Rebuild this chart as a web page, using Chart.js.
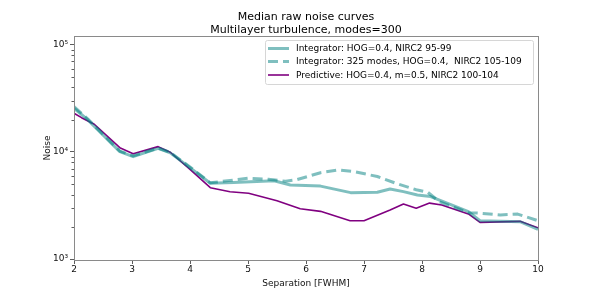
<!doctype html>
<html>
<head>
<meta charset="utf-8" />
<title>Median raw noise curves</title>
<script src="https://cdn.jsdelivr.net/npm/chart.js@4.4.1/dist/chart.umd.min.js"></script>
<style>
  html, body { margin: 0; padding: 0; background: #fff; }
  #wrap { width: 598px; height: 299px; }
</style>
</head>
<body>
<div id="wrap"><canvas id="chart1" width="598" height="299"></canvas></div>
<script>
// values (separation in FWHM, noise)
var titleLines = ["Median raw noise curves", "Multilayer turbulence, modes=300"];
var labelSolid = "Integrator: HOG=0.4, NIRC2 95-99";
var labelDashed = "Integrator: 325 modes, HOG=0.4,  NIRC2 105-109";
var labelPred = "Predictive: HOG=0.4, m=0.5, NIRC2 100-104";

var sepSolid   = [2.0, 2.24, 2.5, 2.79, 3.02, 3.45, 3.66, 4.05, 4.35, 4.75, 5.45, 5.73, 6.25, 6.77, 7.23, 7.45, 7.68, 7.92, 8.15, 8.8, 9.0, 9.7, 10.0];
var noiseSolid = [25600, 19900, 14400, 10070, 9040, 10800, 9800, 6800, 5100, 5200, 5390, 4920, 4800, 4170, 4200, 4510, 4260, 3960, 3830, 2770, 2280, 2230, 1890];

var sepDashed   = [2.0, 2.24, 2.5, 2.79, 3.02, 3.45, 3.66, 4.05, 4.35, 4.86, 5.0, 5.35, 5.65, 5.83, 6.25, 6.55, 6.83, 7.23, 7.55, 7.9, 8.1, 8.3, 8.8, 9.0, 9.35, 9.65, 10.0];
var noiseDashed = [26500, 20300, 14600, 10200, 9200, 10900, 9900, 6900, 5150, 5560, 5690, 5560, 5330, 5490, 6400, 6790, 6550, 5900, 5100, 4440, 4200, 3430, 2710, 2680, 2580, 2630, 2280];

var sepPred   = [2.0, 2.13, 2.35, 2.79, 3.02, 3.45, 3.66, 4.0, 4.35, 4.69, 5.01, 5.5, 5.9, 6.25, 6.76, 7.0, 7.45, 7.68, 7.9, 8.13, 8.34, 8.8, 9.0, 9.69, 10.0];
var noisePred = [23000, 20900, 18150, 10960, 9640, 11220, 9940, 6890, 4640, 4250, 4110, 3510, 2950, 2790, 2280, 2280, 2870, 3270, 2980, 3330, 3200, 2640, 2200, 2250, 1960];

var xTicks = [2, 3, 4, 5, 6, 7, 8, 9, 10];
var yMajorTicks = [1000, 10000, 100000];
var yMajorLabels = ["10\u00b3", "10\u2074", "10\u2075"];
var yMinorTicks = [2000, 3000, 4000, 5000, 6000, 7000, 8000, 9000,
                   20000, 30000, 40000, 50000, 60000, 70000, 80000, 90000];

function pts(xs, ys) {
  return xs.map(function(x, i) { return {x: x, y: ys[i]}; });
}

var FONT = "'DejaVu Sans', sans-serif";
var TEAL = "rgba(0,128,128,0.5)";
var PURPLE = "#800080";

// frame, minor ticks, title and legend drawn on top of the chart
var extras = {
  id: "extras",
  afterDraw: function(chart) {
    var ctx = chart.ctx, a = chart.chartArea, ys = chart.scales.y;
    ctx.save();
    // minor log ticks
    ctx.strokeStyle = "#333";
    ctx.lineWidth = 0.8;
    yMinorTicks.forEach(function(v) {
      if (v < ys.min || v > ys.max) return;
      var py = Math.round(ys.getPixelForValue(v)) + 0.5;
      ctx.beginPath();
      ctx.moveTo(a.left - 2.5, py);
      ctx.lineTo(a.left, py);
      ctx.stroke();
    });
    // axes frame
    ctx.strokeStyle = "#8a8a8a";
    ctx.lineWidth = 1;
    ctx.strokeRect(Math.round(a.left) + 0.5, Math.round(a.top) + 0.5,
                   Math.round(a.right - a.left), Math.round(a.bottom - a.top));
    // title
    ctx.fillStyle = "#000";
    ctx.font = "11px " + FONT;
    ctx.textAlign = "center";
    ctx.textBaseline = "alphabetic";
    var cx = (a.left + a.right) / 2;
    ctx.fillText(titleLines[0], cx, 20);
    ctx.fillText(titleLines[1], cx, 33);
    // legend box
    var bx = 265, by = 40, bw = 268, bh = 44;
    ctx.fillStyle = "rgba(255,255,255,0.8)";
    ctx.strokeStyle = "#d6d6d6";
    ctx.lineWidth = 1;
    ctx.beginPath();
    ctx.roundRect(bx + 0.5, by + 0.5, bw, bh, 2);
    ctx.fill();
    ctx.stroke();
    var rows = [48.5, 61.5, 75];
    ctx.font = "9px " + FONT;
    ctx.textAlign = "left";
    ctx.textBaseline = "middle";
    chart.data.datasets.forEach(function(ds, i) {
      ctx.strokeStyle = ds.borderColor;
      ctx.lineWidth = ds.borderWidth;
      ctx.setLineDash(ds.borderDash || []);
      ctx.beginPath();
      ctx.moveTo(268, rows[i]);
      ctx.lineTo(289, rows[i]);
      ctx.stroke();
      ctx.setLineDash([]);
      ctx.fillStyle = "#000";
      ctx.fillText(ds.label, 296, rows[i] + 0.5);
    });
    ctx.restore();
  }
};

var chart1 = new Chart("chart1", {
  type: "line",
  data: {
    datasets: [
      { label: labelSolid, data: pts(sepSolid, noiseSolid), borderColor: TEAL, borderWidth: 3 },
      { label: labelDashed, data: pts(sepDashed, noiseDashed), borderColor: TEAL, borderWidth: 3, borderDash: [10, 5] },
      { label: labelPred, data: pts(sepPred, noisePred), borderColor: PURPLE, borderWidth: 1.6 }
    ]
  },
  options: {
    responsive: false,
    animation: false,
    devicePixelRatio: 1,
    elements: {
      point: { radius: 0 },
      line: { tension: 0, fill: false, borderJoinStyle: "round", borderCapStyle: "butt" }
    },
    layout: { padding: { left: 40, right: 60, top: 36, bottom: 0 } },
    plugins: { legend: { display: false }, title: { display: false }, tooltip: { enabled: false } },
    scales: {
      x: {
        type: "linear",
        min: 2, max: 10,
        afterBuildTicks: function(s) { s.ticks = xTicks.map(function(v) { return {value: v}; }); },
        afterFit: function(s) { s.height = 39; },
        grid: { drawOnChartArea: false, drawTicks: true, tickLength: 4, color: "#333", lineWidth: 0.8 },
        border: { display: false },
        ticks: { color: "#111", font: { family: FONT, size: 9 }, padding: 0, maxRotation: 0 },
        title: { display: true, text: "Separation [FWHM]", color: "#111",
                 font: { family: FONT, size: 9 }, padding: { top: 10, bottom: 10 } }
      },
      y: {
        type: "logarithmic",
        min: 980, max: 121000,
        afterBuildTicks: function(s) { s.ticks = yMajorTicks.map(function(v) { return {value: v}; }); },
        afterFit: function(s) { s.width = 34; },
        grid: { drawOnChartArea: false, drawTicks: true, tickLength: 4, color: "#333", lineWidth: 0.8 },
        border: { display: false },
        ticks: {
          color: "#111", font: { family: FONT, size: 9 }, padding: 2,
          callback: function(v) {
            var k = yMajorTicks.indexOf(v);
            return k >= 0 ? yMajorLabels[k] : "";
          }
        },
        title: { display: true, text: "Noise", color: "#111",
                 font: { family: FONT, size: 9 }, padding: { top: 2, bottom: 2 } }
      }
    }
  },
  plugins: [extras]
});
</script>
</body>
</html>
